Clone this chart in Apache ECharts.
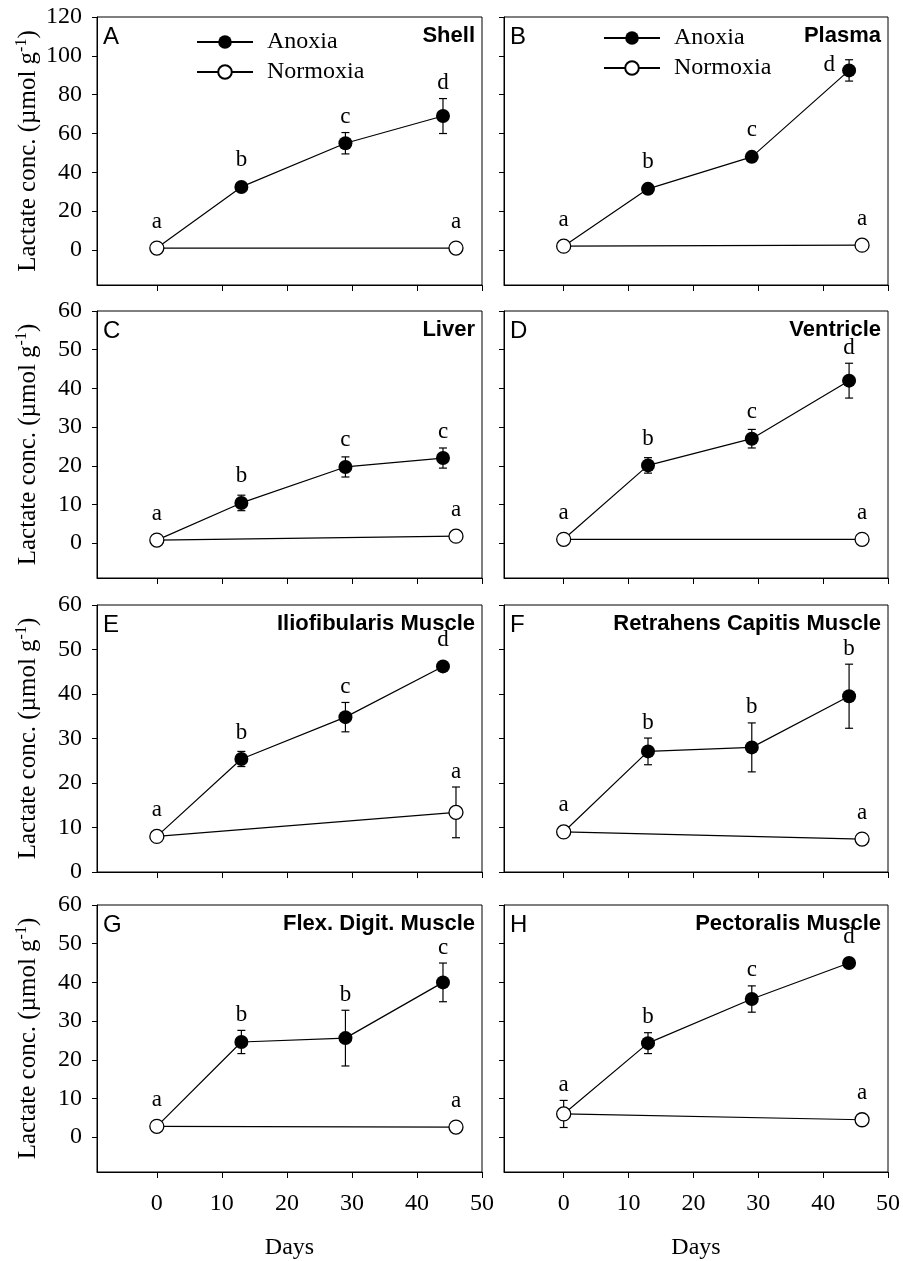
<!DOCTYPE html>
<html>
<head>
<meta charset="utf-8">
<script src="https://cdn.jsdelivr.net/npm/echarts@6/dist/echarts.min.js"></script>
<style>
  html, body { margin: 0; padding: 0; background: #fff; }
  #chart { width: 903px; height: 1261px; }
</style>
</head>
<body>
<div id="chart"></div>
<script>
// sampling days
const anoxiaDays = [13, 29, 44]
const normoxiaDays = [0, 46]

// axis ticks
const xTicks = [0, 10, 20, 30, 40, 50]
const yTicks120 = [0, 20, 40, 60, 80, 100, 120]
const yTicks60 = [0, 10, 20, 30, 40, 50, 60]

// A - shell
const shellAnoxia = [32.5, 55, 69]
const shellAnoxiaErr = [0.8, 5.5, 9]
const shellNormoxia = [1, 1]
const shellNormoxiaErr = [0, 0]
const shellAnoxiaLetters = ['b', 'c', 'd']
const shellNormoxiaLetters = ['a', 'a']

// B - plasma
const plasmaAnoxia = [31.5, 48, 92.5]
const plasmaAnoxiaErr = [1, 1.5, 5.5]
const plasmaNormoxia = [2, 2.5]
const plasmaNormoxiaErr = [0, 0]
const plasmaAnoxiaLetters = ['b', 'c', 'd']
const plasmaNormoxiaLetters = ['a', 'a']

// C - liver
const liverAnoxia = [10.4, 19.7, 22]
const liverAnoxiaErr = [2, 2.6, 2.6]
const liverNormoxia = [0.8, 1.8]
const liverNormoxiaErr = [0, 0]
const liverAnoxiaLetters = ['b', 'c', 'c']
const liverNormoxiaLetters = ['a', 'a']

// D - ventricle
const ventricleAnoxia = [20.1, 27, 42]
const ventricleAnoxiaErr = [2, 2.4, 4.5]
const ventricleNormoxia = [1, 1]
const ventricleNormoxiaErr = [0, 0]
const ventricleAnoxiaLetters = ['b', 'c', 'd']
const ventricleNormoxiaLetters = ['a', 'a']

// E - iliofibularis
const ilioAnoxia = [25.4, 34.8, 46.2]
const ilioAnoxiaErr = [1.7, 3.3, 0]
const ilioNormoxia = [8, 13.4]
const ilioNormoxiaErr = [0, 5.7]
const ilioAnoxiaLetters = ['b', 'c', 'd']
const ilioNormoxiaLetters = ['a', 'a']

// F - retrahens capitis
const retraAnoxia = [27.1, 28, 39.5]
const retraAnoxiaErr = [3, 5.5, 7.2]
const retraNormoxia = [9, 7.4]
const retraNormoxiaErr = [0, 0]
const retraAnoxiaLetters = ['b', 'b', 'b']
const retraNormoxiaLetters = ['a', 'a']

// G - flex. digit.
const flexAnoxia = [24.6, 25.6, 40]
const flexAnoxiaErr = [3, 7.2, 5]
const flexNormoxia = [2.8, 2.6]
const flexNormoxiaErr = [0, 0]
const flexAnoxiaLetters = ['b', 'b', 'c']
const flexNormoxiaLetters = ['a', 'a']

// H - pectoralis
const pectAnoxia = [24.3, 35.7, 45]
const pectAnoxiaErr = [2.7, 3.4, 0]
const pectNormoxia = [6, 4.5]
const pectNormoxiaErr = [3.5, 0]
const pectAnoxiaLetters = ['b', 'c', 'd']
const pectNormoxiaLetters = ['a', 'a']

const panels = [
  {letter: 'A', name: 'Shell', an: shellAnoxia, anErr: shellAnoxiaErr, no: shellNormoxia, noErr: shellNormoxiaErr, anLab: shellAnoxiaLetters, noLab: shellNormoxiaLetters, yMin: -18, yMax: 120, yTicks: yTicks120},
  {letter: 'B', name: 'Plasma', an: plasmaAnoxia, anErr: plasmaAnoxiaErr, no: plasmaNormoxia, noErr: plasmaNormoxiaErr, anLab: plasmaAnoxiaLetters, noLab: plasmaNormoxiaLetters, yMin: -18, yMax: 120, yTicks: yTicks120, leftLetter: 2},
  {letter: 'C', name: 'Liver', an: liverAnoxia, anErr: liverAnoxiaErr, no: liverNormoxia, noErr: liverNormoxiaErr, anLab: liverAnoxiaLetters, noLab: liverNormoxiaLetters, yMin: -9, yMax: 60, yTicks: yTicks60},
  {letter: 'D', name: 'Ventricle', an: ventricleAnoxia, anErr: ventricleAnoxiaErr, no: ventricleNormoxia, noErr: ventricleNormoxiaErr, anLab: ventricleAnoxiaLetters, noLab: ventricleNormoxiaLetters, yMin: -9, yMax: 60, yTicks: yTicks60},
  {letter: 'E', name: 'Iliofibularis Muscle', an: ilioAnoxia, anErr: ilioAnoxiaErr, no: ilioNormoxia, noErr: ilioNormoxiaErr, anLab: ilioAnoxiaLetters, noLab: ilioNormoxiaLetters, yMin: 0, yMax: 60, yTicks: yTicks60},
  {letter: 'F', name: 'Retrahens Capitis Muscle', an: retraAnoxia, anErr: retraAnoxiaErr, no: retraNormoxia, noErr: retraNormoxiaErr, anLab: retraAnoxiaLetters, noLab: retraNormoxiaLetters, yMin: 0, yMax: 60, yTicks: yTicks60},
  {letter: 'G', name: 'Flex. Digit. Muscle', an: flexAnoxia, anErr: flexAnoxiaErr, no: flexNormoxia, noErr: flexNormoxiaErr, anLab: flexAnoxiaLetters, noLab: flexNormoxiaLetters, yMin: -9, yMax: 60, yTicks: yTicks60},
  {letter: 'H', name: 'Pectoralis Muscle', an: pectAnoxia, anErr: pectAnoxiaErr, no: pectNormoxia, noErr: pectNormoxiaErr, anLab: pectAnoxiaLetters, noLab: pectNormoxiaLetters, yMin: -9, yMax: 60, yTicks: yTicks60}
]

const colLeft = [97, 504]
const colWidth = [385, 384]
const rowTop = [17, 311, 605, 905]
const rowHeight = [268, 267, 267, 267]

const serif = '"Liberation Serif", "Times New Roman", serif'
const sans = '"Liberation Sans", Arial, sans-serif'

// error bars + significance letters
function errorSeries (i, pts, errs, letters, leftIdx) {
  return {
    type: 'custom',
    xAxisIndex: i,
    yAxisIndex: i,
    z: 1,
    silent: true,
    data: pts.map((p, k) => [p[0], p[1], errs[k]]),
    encode: {x: 0, y: 1},
    renderItem (params, api) {
      const x = api.value(0)
      const y = api.value(1)
      const e = api.value(2)
      const c = api.coord([x, y])
      const hi = api.coord([x, y + e])
      const lo = api.coord([x, y - e])
      const st = {stroke: '#000', lineWidth: 1.2}
      const children = []
      if (e > 0) {
        children.push({type: 'line', shape: {x1: c[0], y1: hi[1], x2: c[0], y2: lo[1]}, style: st})
        children.push({type: 'line', shape: {x1: c[0] - 4, y1: hi[1], x2: c[0] + 4, y2: hi[1]}, style: st})
        children.push({type: 'line', shape: {x1: c[0] - 4, y1: lo[1], x2: c[0] + 4, y2: lo[1]}, style: st})
      }
      const letter = letters[params.dataIndex]
      if (letter) {
        if (params.dataIndex === leftIdx) {
          children.push({type: 'text', x: c[0] - 14, y: c[1] - 5, style: {text: letter, fill: '#000', fontFamily: serif, fontSize: 23, align: 'right', verticalAlign: 'middle'}})
        } else {
          const by = Math.min(hi[1] - 4, c[1] - 15)
          children.push({type: 'text', x: c[0], y: by, style: {text: letter, fill: '#000', fontFamily: serif, fontSize: 23, align: 'center', verticalAlign: 'bottom'}})
        }
      }
      return {type: 'group', children}
    }
  }
}

let grids = []
let xAxes = []
let yAxes = []
let series = []
let titles = []

panels.forEach((p, i) => {
  const col = i % 2
  const row = Math.floor(i / 2)
  const left = colLeft[col]
  const top = rowTop[row]
  const w = colWidth[col]
  const h = rowHeight[row]
  const bottomRow = row === 3
  grids.push({left: left, top: top, width: w, height: h, show: true, borderColor: '#000', borderWidth: 1, backgroundColor: 'transparent'})
  xAxes.push({
    gridIndex: i,
    type: 'value',
    min: -9.2,
    max: 50,
    axisLine: {show: true, onZero: false, lineStyle: {color: '#000', width: 1}},
    axisTick: {show: true, length: 6, customValues: xTicks, lineStyle: {color: '#000', width: 1}},
    axisLabel: {show: bottomRow, customValues: xTicks, margin: 20, fontFamily: serif, fontSize: 24, color: '#000'},
    splitLine: {show: false},
    name: bottomRow ? 'Days' : '',
    nameLocation: 'middle',
    nameGap: 64,
    nameTextStyle: {fontFamily: serif, fontSize: 24, color: '#000'}
  })
  yAxes.push({
    gridIndex: i,
    type: 'value',
    min: p.yMin,
    max: p.yMax,
    axisLine: {show: true, onZero: false, lineStyle: {color: '#000', width: 1}},
    axisTick: {show: true, length: 5, customValues: p.yTicks, lineStyle: {color: '#000', width: 1}},
    axisLabel: {show: col === 0, customValues: p.yTicks, margin: 15, fontFamily: serif, fontSize: 24, color: '#000'},
    splitLine: {show: false},
    name: col === 0 ? '{n|Lactate conc. (µmol g}{s|-1}{n|)}' : '',
    nameLocation: 'middle',
    nameRotate: 90,
    nameGap: 55,
    nameTextStyle: {
      color: '#000',
      rich: {
        n: {fontFamily: serif, fontSize: 25, color: '#000', lineHeight: 28},
        s: {fontFamily: serif, fontSize: 16, color: '#000', verticalAlign: 'top', lineHeight: 16}
      }
    }
  })
  // anoxia line starts from the shared day-0 control point
  let anData = [{value: [normoxiaDays[0], p.no[0]], symbol: 'none'}]
  anoxiaDays.forEach((d, k) => anData.push([d, p.an[k]]))
  series.push({
    name: 'Anoxia',
    type: 'line',
    xAxisIndex: i,
    yAxisIndex: i,
    data: anData,
    symbol: 'circle',
    symbolSize: 14,
    z: 3,
    silent: true,
    lineStyle: {color: '#000', width: 1.2},
    itemStyle: {color: '#000'}
  })
  series.push({
    name: 'Normoxia',
    type: 'line',
    xAxisIndex: i,
    yAxisIndex: i,
    data: normoxiaDays.map((d, k) => [d, p.no[k]]),
    symbol: 'circle',
    symbolSize: 14,
    z: 4,
    silent: true,
    lineStyle: {color: '#000', width: 1.2},
    itemStyle: {color: '#fff', borderColor: '#000', borderWidth: 1.3}
  })
  series.push(errorSeries(i, anoxiaDays.map((d, k) => [d, p.an[k]]), p.anErr, p.anLab, p.leftLetter))
  series.push(errorSeries(i, normoxiaDays.map((d, k) => [d, p.no[k]]), p.noErr, p.noLab, -1))
  titles.push({
    text: p.letter,
    left: left + 6,
    top: top + 8,
    padding: 0,
    textStyle: {fontFamily: sans, fontSize: 24, fontWeight: 'normal', color: '#000'}
  })
  titles.push({
    text: p.name,
    right: 903 - (left + w - 7),
    top: top + 8,
    padding: 0,
    textStyle: {fontFamily: sans, fontSize: 22, fontWeight: 'bold', color: '#000'}
  })
})

const legendStyle = {
  data: ['Anoxia', 'Normoxia'],
  orient: 'vertical',
  itemWidth: 56,
  itemHeight: 17,
  itemGap: 6,
  padding: 0,
  selectedMode: false,
  textStyle: {fontFamily: serif, fontSize: 24, color: '#000', padding: [0, 0, 0, 9]}
}

let chart = echarts.init(document.getElementById('chart'))
chart.setOption({
  backgroundColor: '#fff',
  animation: false,
  title: titles,
  legend: [
    Object.assign({left: 196, top: 30}, legendStyle),
    Object.assign({left: 603, top: 26}, legendStyle)
  ],
  grid: grids,
  xAxis: xAxes,
  yAxis: yAxes,
  series: series
})
</script>
</body>
</html>
